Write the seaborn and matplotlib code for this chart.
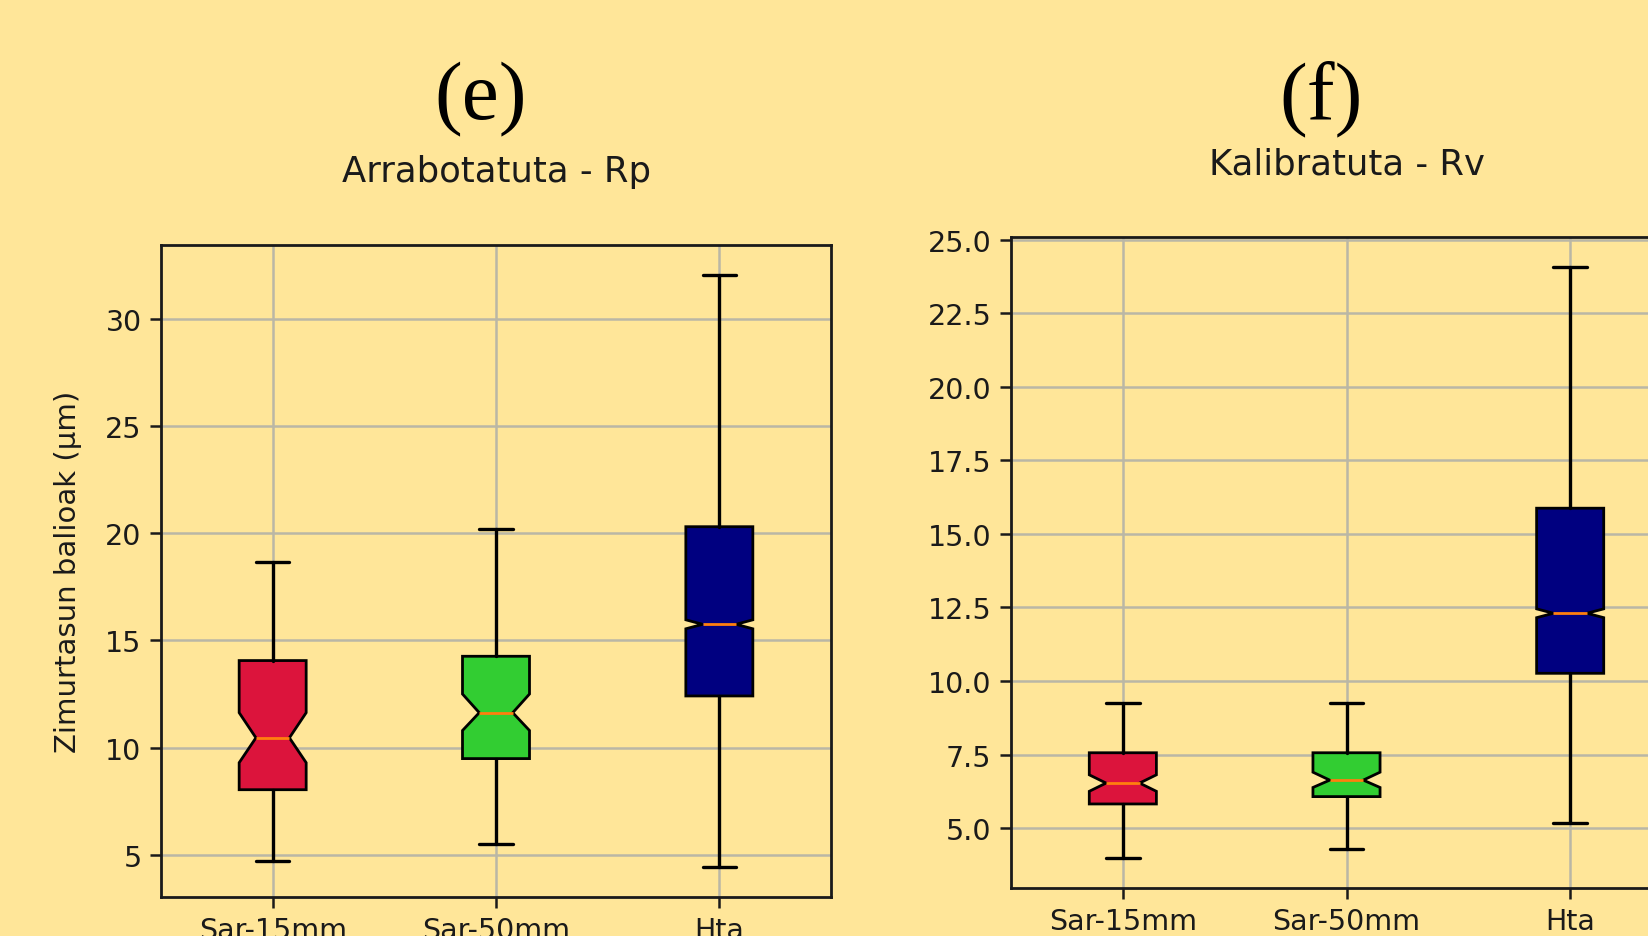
import matplotlib
matplotlib.use("Agg")
import matplotlib.pyplot as plt
import seaborn as sns

# Groups along the x axis
groups = ["Sar-15mm", "Sar-50mm", "Hta"]
box_colors = ["#DC143C", "#32CD32", "#000080"]

# Arrabotatuta - Rp : five-number summaries and notch limits (µm)
rp_whislo = [4.71, 5.49, 4.42]
rp_q1 = [8.04, 9.49, 12.41]
rp_med = [10.46, 11.63, 15.75]
rp_q3 = [14.06, 14.26, 20.30]
rp_whishi = [18.65, 20.20, 32.05]
rp_ci_lo = [9.30, 10.80, 15.54]
rp_ci_hi = [11.63, 12.50, 15.96]

# Kalibratuta - Rv : five-number summaries and notch limits (µm)
rv_whislo = [3.97, 4.29, 5.18]
rv_q1 = [5.82, 6.07, 10.26]
rv_med = [6.53, 6.63, 12.30]
rv_q3 = [7.56, 7.56, 15.87]
rv_whishi = [9.26, 9.26, 24.08]
rv_ci_lo = [6.25, 6.38, 12.15]
rv_ci_hi = [6.81, 6.90, 12.45]

BG = "#FFE699"

sns.set_theme(style="ticks", rc={
    "figure.facecolor": BG,
    "axes.facecolor": BG,
    "axes.edgecolor": "#1a1a1a",
    "axes.linewidth": 2.0,
    "grid.color": "#bab7a6",
    "grid.linewidth": 1.8,
    "xtick.color": "#1a1a1a",
    "ytick.color": "#1a1a1a",
    "text.color": "#1a1a1a",
    "axes.labelcolor": "#1a1a1a",
})
plt.rcParams["font.family"] = ["DejaVu Sans"]

W, H = 1648, 937
fig = plt.figure(figsize=(W / 100, H / 100), dpi=100)


def px_axes(left, top, right, bottom):
    return fig.add_axes([left / W, 1 - bottom / H, (right - left) / W, (bottom - top) / H])


def make_stats(whislo, q1, med, q3, whishi, ci_lo, ci_hi):
    return [
        dict(whislo=a, q1=b, med=c, q3=d, whishi=e, cilo=f, cihi=g, fliers=[], label=lab)
        for a, b, c, d, e, f, g, lab in zip(whislo, q1, med, q3, whishi, ci_lo, ci_hi, groups)
    ]


def draw_panel(ax, stats, title):
    art = ax.bxp(
        stats, positions=[1, 2, 3], widths=0.3, shownotches=True, patch_artist=True,
        showfliers=False,
        boxprops=dict(edgecolor="black", linewidth=2.0),
        whiskerprops=dict(color="black", linewidth=2.4),
        capprops=dict(color="black", linewidth=2.4),
        medianprops=dict(color="#ff7f0e", linewidth=2.0),
    )
    for patch, col in zip(art["boxes"], box_colors):
        patch.set_facecolor(col)
    ax.set_xlim(0.5, 3.5)
    ax.grid(True)
    ax.set_axisbelow(True)
    ax.tick_params(axis="both", labelsize=20.5, length=8, width=1.8, pad=6)
    ax.set_title(title, fontsize=25.5, pad=46)


ax_e = px_axes(161, 246, 831, 898)
draw_panel(ax_e, make_stats(rp_whislo, rp_q1, rp_med, rp_q3, rp_whishi, rp_ci_lo, rp_ci_hi),
           "Arrabotatuta - Rp")
ax_e.set_ylabel("Zimurtasun balioak (µm)", fontsize=21)
ax_e.yaxis.set_label_coords(-0.118, 0.5)

ax_f = px_axes(1011, 238, 1682, 889)
draw_panel(ax_f, make_stats(rv_whislo, rv_q1, rv_med, rv_q3, rv_whishi, rv_ci_lo, rv_ci_hi),
           "Kalibratuta - Rv")

# Panel letters
fig.text(481 / W, 1 - 119 / H, "(e)", family="Liberation Serif", fontsize=60,
         ha="center", va="baseline", color="black")
fig.text(1321 / W, 1 - 119 / H, "(f)", family="Liberation Serif", fontsize=60,
         ha="center", va="baseline", color="black")

fig.savefig("out.png", dpi=100, facecolor=BG)
